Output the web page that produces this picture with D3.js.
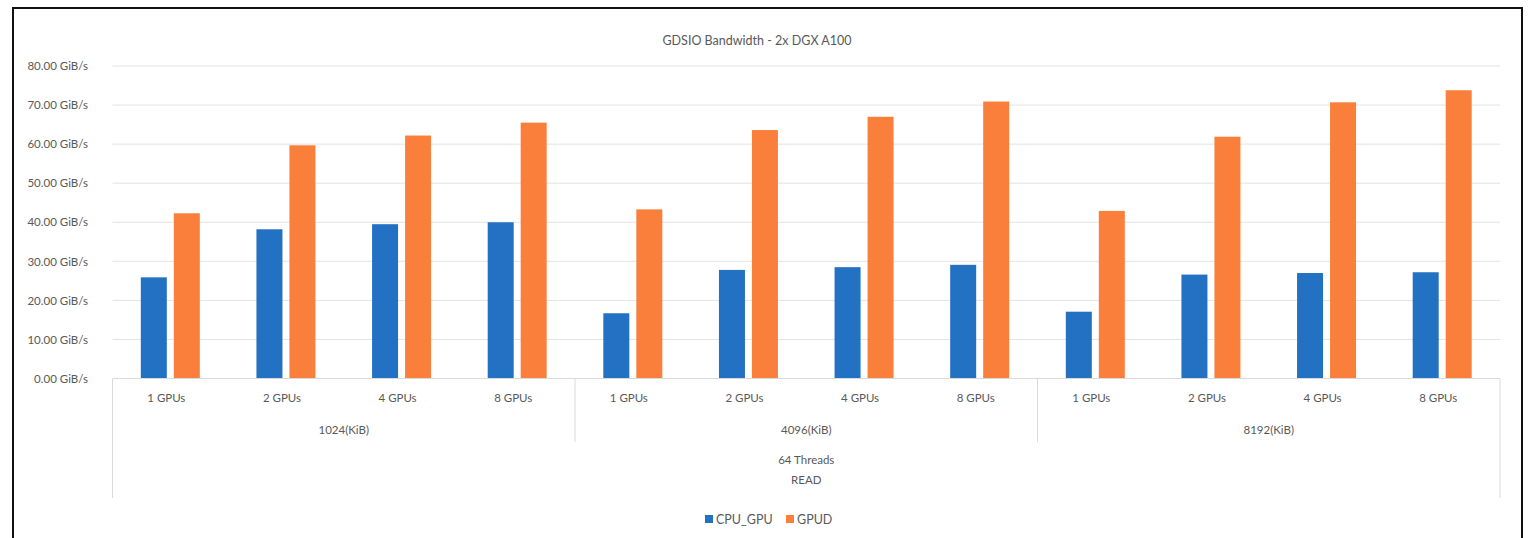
<!DOCTYPE html>
<html>
<head>
<meta charset="utf-8">
<script src="https://cdn.jsdelivr.net/npm/d3@7"></script>
<style>
  html, body { margin: 0; padding: 0; background: #fff; }
  svg { display: block; }
  text { font-family: "Lato", "Roboto", sans-serif; fill: #595959; }
</style>
</head>
<body>
<svg id="chart" width="1535" height="538"></svg>
<script>
// ---- data ----
const title = "GDSIO Bandwidth - 2x DGX A100";
const gpuLabels = ["1 GPUs", "2 GPUs", "4 GPUs", "8 GPUs"];
const blockSizes = ["1024(KiB)", "4096(KiB)", "8192(KiB)"];
const threadLabel = "64 Threads";
const modeLabel = "READ";
const seriesNames = ["CPU_GPU", "GPUD"];
const cpuGpu = [25.9, 38.2, 39.5, 40.0, 16.7, 27.8, 28.5, 29.1, 17.1, 26.6, 27.0, 27.2];
const gpud   = [42.3, 59.7, 62.2, 65.5, 43.3, 63.6, 67.0, 70.9, 42.9, 61.9, 70.7, 73.8];
const yTicks = [0, 10, 20, 30, 40, 50, 60, 70, 80];
const colors = ["#2371c2", "#fa7f3b"];

// ---- layout ----
const FONT = '"Lato", "Roboto", sans-serif';
const svg = d3.select("#chart");
const plot = { left: 112.5, right: 1500, top: 66, bottom: 378.5 };

// frame
svg.append("rect").attr("x", 13).attr("y", 8).attr("width", 1509).attr("height", 545)
  .attr("fill", "none").attr("stroke", "#111").attr("stroke-width", 2);

const cats = [];
blockSizes.forEach((b, gi) => gpuLabels.forEach((g, i) => cats.push({ key: b + "|" + g, gpu: g, block: b, idx: gi * 4 + i })));

const x = d3.scaleBand().domain(cats.map(d => d.key)).range([plot.left, plot.right]).paddingInner(0).paddingOuter(0);
const y = d3.scaleLinear().domain([0, 80]).range([plot.bottom, plot.top]);

// gridlines
svg.append("g").selectAll("line").data(yTicks.filter(t => t > 0)).join("line")
  .attr("x1", plot.left).attr("x2", plot.right)
  .attr("y1", d => y(d)).attr("y2", d => y(d))
  .attr("stroke", "#e3e3e3").attr("stroke-width", 1);

// y axis labels
const yAxis = d3.axisLeft(y).tickValues(yTicks).tickSize(0).tickPadding(0)
  .tickFormat(d => d3.format(".2f")(d) + " GiB/s");
const yg = svg.append("g").attr("transform", `translate(${88},0)`).call(yAxis);
yg.select(".domain").remove();
yg.selectAll("text").attr("font-size", 11.5).attr("fill", "#595959").style("font-family", FONT);

// bars
const sub = d3.scaleBand().domain(seriesNames).range([0, x.bandwidth()]).paddingInner(0.212).paddingOuter(0.858);
const series = [cpuGpu, gpud];
seriesNames.forEach((s, si) => {
  svg.append("g").selectAll("rect").data(cats).join("rect")
    .attr("x", d => x(d.key) + sub(s))
    .attr("width", sub.bandwidth())
    .attr("y", d => y(series[si][d.idx]))
    .attr("height", d => y(0) - y(series[si][d.idx]))
    .attr("fill", colors[si]);
});

// x axis line
svg.append("line").attr("x1", plot.left).attr("x2", plot.right)
  .attr("y1", plot.bottom).attr("y2", plot.bottom).attr("stroke", "#d9d9d9");

// level 1 labels
const xAxis = d3.axisBottom(x).tickSize(0).tickPadding(0).tickFormat(k => k.split("|")[1]);
const xg = svg.append("g").attr("transform", `translate(-4,${394})`).call(xAxis);
xg.select(".domain").remove();
xg.selectAll("text").attr("font-size", 11.5).attr("fill", "#595959").style("font-family", FONT);

// group separators and labels
const groupX = b => {
  const first = x(b + "|" + gpuLabels[0]);
  const last = x(b + "|" + gpuLabels[gpuLabels.length - 1]) + x.bandwidth();
  return [first, last];
};
const sepG = svg.append("g").attr("stroke", "#d9d9d9");
blockSizes.forEach((b, i) => {
  const [x0, x1] = groupX(b);
  if (i > 0) sepG.append("line").attr("x1", x0).attr("x2", x0).attr("y1", plot.bottom).attr("y2", 442);
  svg.append("text").attr("x", (x0 + x1) / 2).attr("y", 434).attr("text-anchor", "middle")
    .attr("font-size", 11.5).text(b);
});
sepG.append("line").attr("x1", plot.left).attr("x2", plot.left).attr("y1", plot.bottom).attr("y2", 498);
sepG.append("line").attr("x1", plot.right).attr("x2", plot.right).attr("y1", plot.bottom).attr("y2", 498);

const mid = (plot.left + plot.right) / 2;
svg.append("text").attr("x", mid).attr("y", 464).attr("text-anchor", "middle").attr("font-size", 11.5).text(threadLabel);
svg.append("text").attr("x", mid).attr("y", 484).attr("text-anchor", "middle").attr("font-size", 11.5).text(modeLabel);

// title
svg.append("text").attr("x", 757).attr("y", 45).attr("text-anchor", "middle").attr("font-size", 12.5).text(title);

// legend
const legend = svg.append("g");
const legItems = [{ name: seriesNames[0], x: 705 }, { name: seriesNames[1], x: 786 }];
legItems.forEach((it, i) => {
  legend.append("rect").attr("x", it.x).attr("y", 515).attr("width", 8).attr("height", 8).attr("fill", colors[i]);
  legend.append("text").attr("x", it.x + 11).attr("y", 523.5).attr("font-size", 12.5).text(it.name);
});
</script>
</body>
</html>
